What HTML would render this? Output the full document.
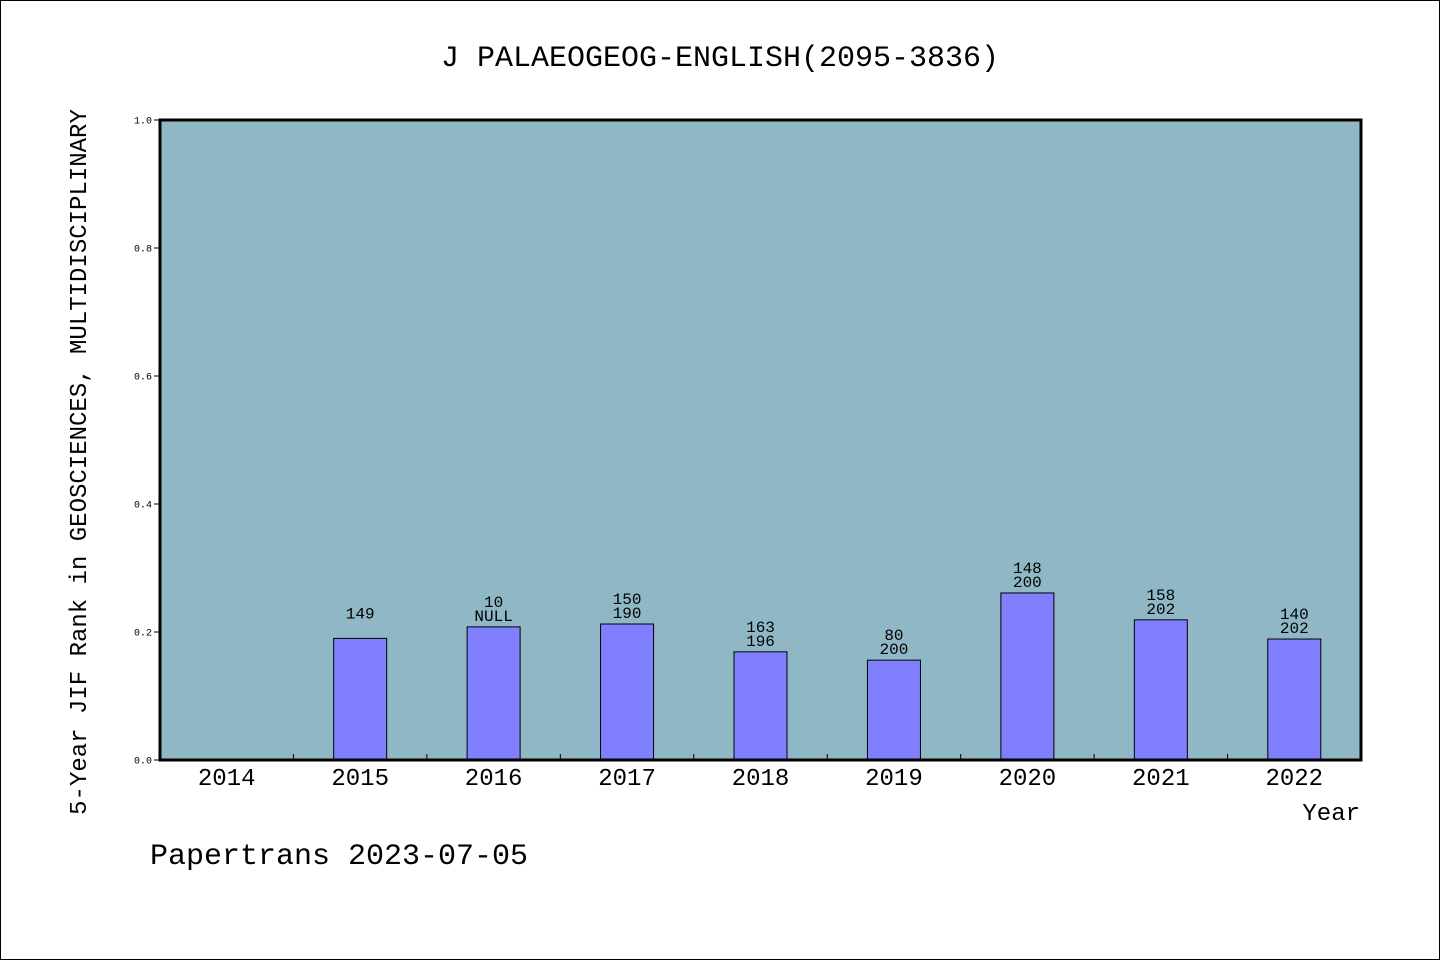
<!DOCTYPE html>
<html><head><meta charset="utf-8"><style>
body{margin:0;background:#fff}
svg text{font-family:"Liberation Mono","WenQuanYi Zen Hei",monospace}
</style></head><body>
<svg width="1440" height="960">
<rect x="0.5" y="0.5" width="1439" height="959" fill="#fff" stroke="#000"/>
<text x="720" y="66" font-size="30" text-anchor="middle">J PALAEOGEOG-ENGLISH(2095-3836)</text>
<rect x="160" y="120" width="1201" height="640" fill="#8fb7c5"/>
<g id="bars"></g>
<rect x="160" y="120" width="1201" height="640" fill="none" stroke="#000" stroke-width="3"/>
<g id="axes"></g>
<text x="1360" y="820" font-size="24" text-anchor="end">Year</text>
<text transform="translate(86,462) rotate(-90)" font-size="24" text-anchor="middle">5-Year JIF Rank in GEOSCIENCES, MULTIDISCIPLINARY</text>
<text x="150" y="864" font-size="30">Papertrans 2023-07-05</text>
</svg>
<script>
const years=["2014","2015","2016","2017","2018","2019","2020","2021","2022"];
const values=[null,0.19,0.208,0.2125,0.169,0.156,0.261,0.219,0.189];
const rankLabels=[null,"149","10","150","163","80","148","158","140"];
const totalLabels=[null,null,"NULL","190","196","200","200","202","202"];
const yTicks=[0,0.2,0.4,0.6,0.8,1.0];
const X0=160,W=1201,Y0=760,H=640,n=years.length,bw=W/n;
const ys=v=>Y0-v*H, xc=i=>X0+bw*(i+0.5);
const NS="http://www.w3.org/2000/svg";
const bars=document.getElementById('bars'),axes=document.getElementById('axes');
function mk(t,a,p,txt){const e=document.createElementNS(NS,t);for(const k in a)e.setAttribute(k,a[k]);if(txt!=null)e.textContent=txt;p.appendChild(e);return e;}
values.forEach((v,i)=>{
 if(v==null)return;
 const r=mk('rect',{x:xc(i)-26.5,y:ys(v),width:53,height:v*H,fill:'#8080ff',stroke:'#000','stroke-width':1},bars);
 
 
 const top=ys(v);
 if(totalLabels[i]==null){
  const t=mk('text',{x:xc(i),y:top-20,'font-size':16,'text-anchor':'middle'},bars,rankLabels[i]);
  
  
 }else{
  const t1=mk('text',{x:xc(i),y:top-20,'font-size':16,'text-anchor':'middle'},bars,rankLabels[i]);
  
  
  const t2=mk('text',{x:xc(i),y:top-6,'font-size':16,'text-anchor':'middle'},bars,totalLabels[i]);
  
  
 }
});
yTicks.forEach(t=>{
 const l=mk('line',{x1:154,x2:160,y1:ys(t),y2:ys(t),stroke:'#000'},axes);
 
 
 const tx=mk('text',{x:152,y:ys(t)+3.5,'font-size':10,'text-anchor':'end'},axes,t.toFixed(1));
 
 
});
years.forEach((y,i)=>{
 if(i>0){const l=mk('line',{x1:X0+bw*i,x2:X0+bw*i,y1:754,y2:760,stroke:'#000'},axes);
 
 }
 const t=mk('text',{x:xc(i),y:785,'font-size':24,'text-anchor':'middle'},axes,y);
 
 
});
</script>
</body></html>
